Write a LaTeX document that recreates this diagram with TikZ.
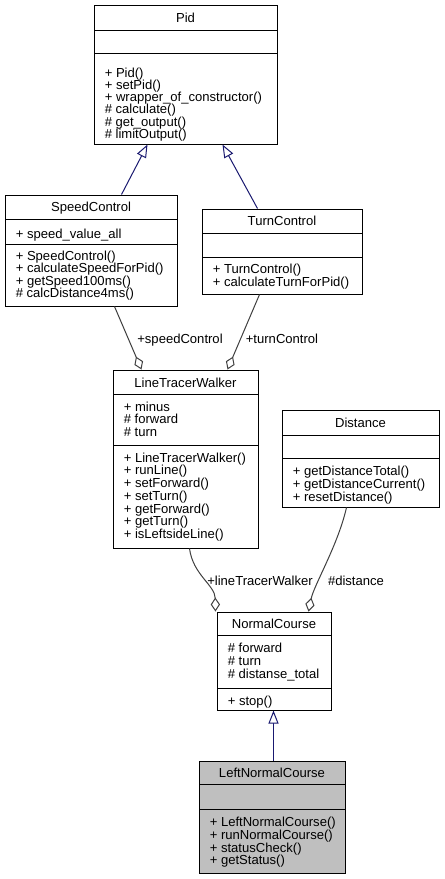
\documentclass[tikz,border=0pt]{standalone}
\usepackage{fontspec}
\setmainfont{Liberation Sans}
\usetikzlibrary{arrows.meta,fit,calc}
\definecolor{inhcol}{HTML}{191970}
\definecolor{aggcol}{HTML}{404040}
\definecolor{hlfill}{HTML}{BFBFBF}
\begin{document}
\begin{tikzpicture}[x=0.75pt,y=-0.75pt,
  cls/.style={draw=black, line width=0.75pt, inner sep=0pt, fill=white},
  divline/.style={draw=black, line width=0.75pt},
  title/.style={anchor=base, inner sep=0pt, font=\fontsize{9.8}{9.5}\selectfont},
  members/.style={anchor=north west, align=left, inner sep=0pt, font=\fontsize{9.8}{9.55}\selectfont, execute at begin node={\rule{0pt}{7.5pt}}},
  rolelabel/.style={anchor=base, inner sep=0pt, font=\fontsize{9.8}{9.5}\selectfont},
  inherit/.style={draw=inhcol, line width=0.75pt, -{Triangle[open, length=9.75pt, width=7.5pt, fill=white]}},
  aggreg/.style={draw=aggcol, line width=0.75pt, -{Diamond[open, length=10.5pt, width=7pt, fill=white]}},
]
\useasboundingbox (0,0) rectangle (444,879);
\fill[white] (0,0) rectangle (444,879);

% Pid
\node[cls, fit={(94,5) (277,144)}] (pid) {};
\draw[divline] (94,30) -- (277,30) (94,53) -- (277,53);
\node[title] (pidT) at (185.5,22.5) {Pid};
\node[members, font=\fontsize{9.8}{9.15}\selectfont] (pidM) at (104.5,67.5) {+ Pid()\\+ setPid()\\+ wrapper\_of\_constructor()\\\# calculate()\\\# get\_output()\\\# limitOutput()};

% SpeedControl
\node[cls, fit={(5,195) (177,306)}] (sc) {};
\draw[divline] (5,219) -- (177,219) (5,244) -- (177,244);
\node[title] (scT) at (91,211.7) {SpeedControl};
\node[members] (scA) at (15.5,228) {+ speed\_value\_all};
\node[members, font=\fontsize{9.8}{9.35}\selectfont] (scM) at (15.5,250.5) {+ SpeedControl()\\+ calculateSpeedForPid()\\+ getSpeed100ms()\\\# calcDistance4ms()};

% TurnControl
\node[cls, fit={(202,209) (362,294)}] (tc) {};
\draw[divline] (202,233) -- (362,233) (202,257) -- (362,257);
\node[title] (tcT) at (282,225.7) {TurnControl};
\node[members] (tcM) at (212.5,264) {+ TurnControl()\\+ calculateTurnForPid()};

% LineTracerWalker
\node[cls, fit={(113,370) (258,548)}] (ltw) {};
\draw[divline] (113,394) -- (258,394) (113,445) -- (258,445);
\node[title] (ltwT) at (185.5,387) {LineTracerWalker};
\node[members] (ltwA) at (123.5,401.5) {+ minus\\\# forward\\\# turn};
\node[members] (ltwM) at (123.5,452.5) {+ LineTracerWalker()\\+ runLine()\\+ setForward()\\+ setTurn()\\+ getForward()\\+ getTurn()\\+ isLeftsideLine()};

% Distance
\node[cls, fit={(282,410) (439,507)}] (dist) {};
\draw[divline] (282,435) -- (439,435) (282,458) -- (439,458);
\node[title] (distT) at (360.5,427) {Distance};
\node[members] (distM) at (292.5,466) {+ getDistanceTotal()\\+ getDistanceCurrent()\\+ resetDistance()};

% NormalCourse
\node[cls, fit={(217,612) (331,710)}] (nc) {};
\draw[divline] (217,635) -- (331,635) (217,688) -- (331,688);
\node[title] (ncT) at (274,628) {NormalCourse};
\node[members] (ncA) at (227.5,643) {\# forward\\\# turn\\\# distanse\_total};
\node[members] (ncM) at (227.5,695) {+ stop()};

% LeftNormalCourse
\node[cls, fill=hlfill, fit={(199,761) (345,873)}] (lnc) {};
\draw[divline] (199,784) -- (345,784) (199,809) -- (345,809);
\node[title] (lncT) at (272,777) {LeftNormalCourse};
\node[members] (lncM) at (209.5,817) {+ LeftNormalCourse()\\+ runNormalCourse()\\+ statusCheck()\\+ getStatus()};

% inheritance
\draw[inherit] ($(sc.north west)+(117,0)$) -- ($(pid.south west)+(54,0)$);
\draw[inherit] ($(tc.north west)+(56,0)$) -- ($(pid.south west)+(129,0)$);
\draw[inherit] ($(lnc.north west)+(75,0)$) -- ($(nc.south west)+(57,0)$);

% aggregation
\draw[aggreg] ($(sc.south west)+(110,0)$) -- ($(ltw.north west)+(29,0)$);
\draw[aggreg] ($(tc.south west)+(58,0)$) -- ($(ltw.north west)+(115,0)$);
\draw[aggreg] ($(ltw.south west)+(77,0)$) .. controls (193,575) and (215,585) .. ($(nc.north west)+(-1,0)$);
\draw[aggreg] ($(dist.south west)+(65,0)$) .. controls (338,545) and (314,585) .. ($(nc.north west)+(92,0)$);

% role labels
\node[rolelabel] (lblsc) at (180,343) {+speedControl};
\node[rolelabel] (lbltc) at (282,343) {+turnControl};
\node[rolelabel] (lblltw) at (260,585) {+lineTracerWalker};
\node[rolelabel] (lbldist) at (356,585) {\#distance};
\end{tikzpicture}
\end{document}
